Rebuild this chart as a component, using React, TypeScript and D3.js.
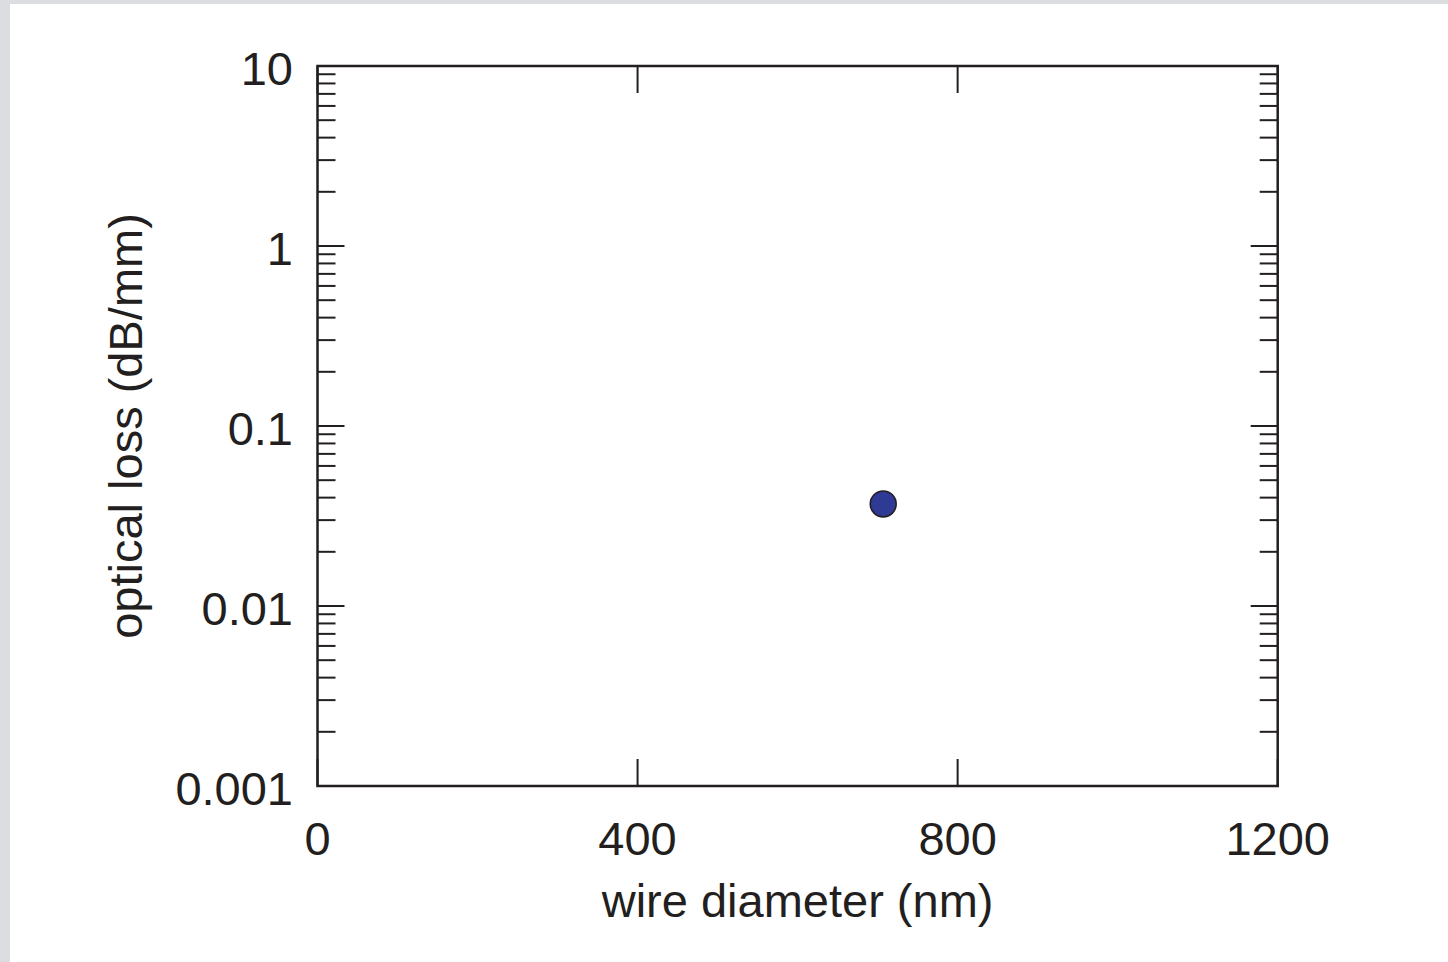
import React from "react";
import * as d3 from "d3";

const xTicks = [0, 400, 800, 1200];
const xTickLabels = ["0", "400", "800", "1200"];
const yDecades = [0.001, 0.01, 0.1, 1, 10];
const yTickLabels = ["0.001", "0.01", "0.1", "1", "10"];
const diameters = [707];
const losses = [0.0369];

const W = 1448;
const H = 962;
const M = { left: 317.5, right: 1277.7, top: 66, bottom: 786 };
const INK = "#231f20";
const FONT = "'Liberation Sans', Arial, Helvetica, sans-serif";

export default function App() {
  const x = d3.scaleLinear().domain([0, 1200]).range([M.left, M.right]);
  const y = d3.scaleLog().domain([0.001, 10]).range([M.bottom, M.top]);

  const minor: number[] = [];
  for (let i = 0; i < yDecades.length - 1; i++) {
    for (let k = 2; k <= 9; k++) minor.push(yDecades[i] * k);
  }
  const major = 27;
  const minorLen = 18;

  return (
    <svg
      width={W}
      height={H}
      style={{ position: "absolute", left: 0, top: 0, display: "block" }}
      fontFamily={FONT}
    >
      <rect x={0} y={0} width={W} height={H} fill="#ffffff" />
      <rect x={0} y={0} width={W} height={4} fill="#dcdde0" />
      <rect x={0} y={0} width={10} height={H} fill="#dcdde0" />

      {/* y minor ticks, left and right */}
      {minor.map((v, i) => (
        <g key={"m" + i} stroke={INK} strokeWidth={2}>
          <line x1={M.left} x2={M.left + minorLen} y1={y(v)} y2={y(v)} />
          <line x1={M.right} x2={M.right - minorLen} y1={y(v)} y2={y(v)} />
        </g>
      ))}
      {/* y major ticks */}
      {yDecades.map((v, i) => (
        <g key={"M" + i} stroke={INK} strokeWidth={2}>
          <line x1={M.left} x2={M.left + major} y1={y(v)} y2={y(v)} />
          <line x1={M.right} x2={M.right - major} y1={y(v)} y2={y(v)} />
        </g>
      ))}
      {/* x ticks bottom and top */}
      {xTicks.map((v, i) => (
        <g key={"x" + i} stroke={INK} strokeWidth={2}>
          <line x1={x(v)} x2={x(v)} y1={M.bottom} y2={M.bottom - major} />
          <line x1={x(v)} x2={x(v)} y1={M.top} y2={M.top + major} />
        </g>
      ))}

      {/* frame */}
      <rect
        x={M.left}
        y={M.top}
        width={M.right - M.left}
        height={M.bottom - M.top}
        fill="none"
        stroke={INK}
        strokeWidth={2.5}
      />

      {/* y tick labels */}
      {yDecades.map((v, i) => (
        <text
          key={"yl" + i}
          x={293}
          y={y(v) + 19}
          textAnchor="end"
          fontSize={47}
          fill={INK}
        >
          {yTickLabels[i]}
        </text>
      ))}
      {/* x tick labels */}
      {xTicks.map((v, i) => (
        <text
          key={"xl" + i}
          x={x(v)}
          y={855}
          textAnchor="middle"
          fontSize={47}
          fill={INK}
        >
          {xTickLabels[i]}
        </text>
      ))}

      {/* axis titles */}
      <text
        x={(M.left + M.right) / 2}
        y={917}
        textAnchor="middle"
        fontSize={47}
        fill={INK}
      >
        wire diameter (nm)
      </text>
      <text
        transform={`translate(142, ${(M.top + M.bottom) / 2}) rotate(-90)`}
        textAnchor="middle"
        fontSize={47}
        fill={INK}
      >
        optical loss (dB/mm)
      </text>

      {/* data */}
      {diameters.map((d, i) => (
        <circle
          key={"p" + i}
          cx={x(d)}
          cy={y(losses[i])}
          r={13}
          fill="#2e3a94"
          stroke={INK}
          strokeWidth={1.5}
        />
      ))}
    </svg>
  );
}
